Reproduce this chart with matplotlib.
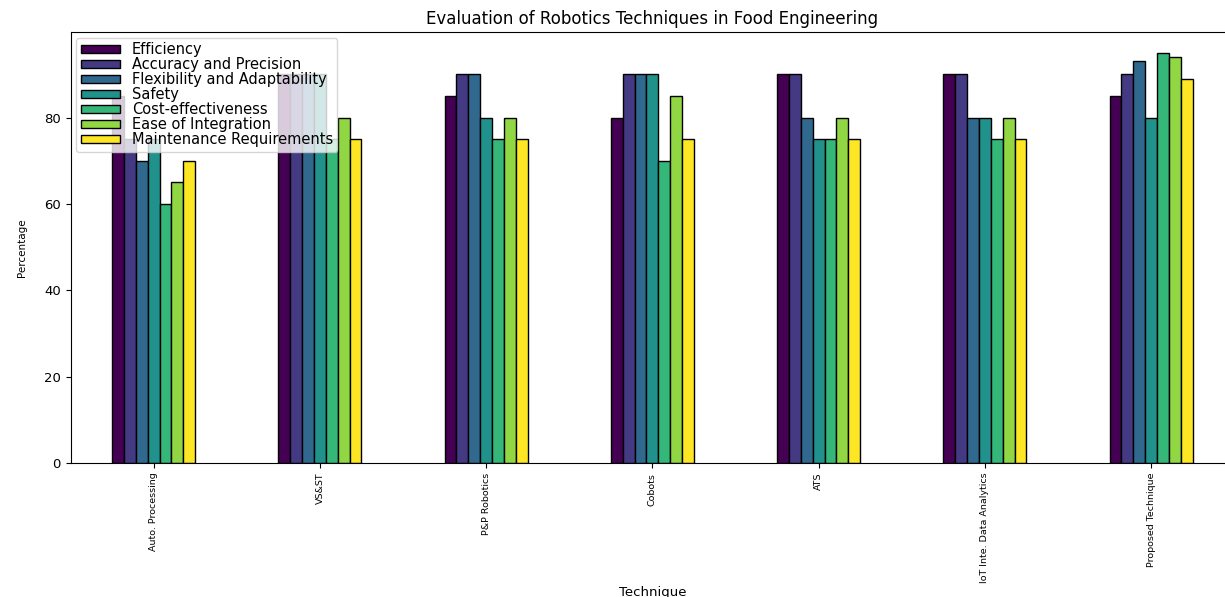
import numpy as np
import matplotlib
matplotlib.use("Agg")
import matplotlib.pyplot as plt

# Datos
techniques = ["Auto. Processing", "VS&ST", "P&P Robotics", "Cobots", "ATS",
              "IoT Inte. Data Analytics", "Proposed Technique"]
metrics = ["Efficiency", "Accuracy and Precision", "Flexibility and Adaptability",
           "Safety", "Cost-effectiveness", "Ease of Integration",
           "Maintenance Requirements"]

efficiency    = [85, 90, 85, 80, 90, 90, 85]
accuracy      = [75, 90, 90, 90, 90, 90, 90]
flexibility   = [70, 90, 90, 90, 80, 80, 93]
safety        = [75, 90, 80, 90, 75, 80, 80]
cost_eff      = [60, 75, 75, 70, 75, 75, 95]
ease_integr   = [65, 80, 80, 85, 80, 80, 94]
maintenance   = [70, 75, 75, 75, 75, 75, 89]

series = [efficiency, accuracy, flexibility, safety, cost_eff, ease_integr, maintenance]

fig = plt.figure(figsize=(12.25, 5.97), dpi=100)
ax = fig.add_axes([0.0576, 0.2245, 0.95, 0.7215])

colors = plt.cm.viridis(np.linspace(0, 1, len(metrics)))
x = np.arange(len(techniques))
total_width = 0.5
w = total_width / len(metrics)

for i, (name, vals) in enumerate(zip(metrics, series)):
    offset = -total_width / 2 + w * (i + 0.5)
    ax.bar(x + offset, vals, width=w, color=colors[i], edgecolor='black',
           linewidth=1, label=name)

ax.set_xlim(-0.5, len(techniques) - 0.5)
ax.set_ylim(0, 99.75)
ax.set_xticks(x)
ax.set_xticklabels(techniques, rotation=90, fontsize=6.8)
ax.tick_params(axis='y', labelsize=9.5)

ax.set_title("Evaluation of Robotics Techniques in Food Engineering", fontsize=12)
ax.set_xlabel("Technique", fontsize=9.5, labelpad=2)
ax.set_ylabel("Percentage", fontsize=7.5, labelpad=12)

ax.legend(loc='upper left', fontsize=10.5, labelspacing=0.0, borderpad=0.3,
          handlelength=2.7, handleheight=0.5, borderaxespad=0.4)

fig.savefig("out.png", dpi=100)
